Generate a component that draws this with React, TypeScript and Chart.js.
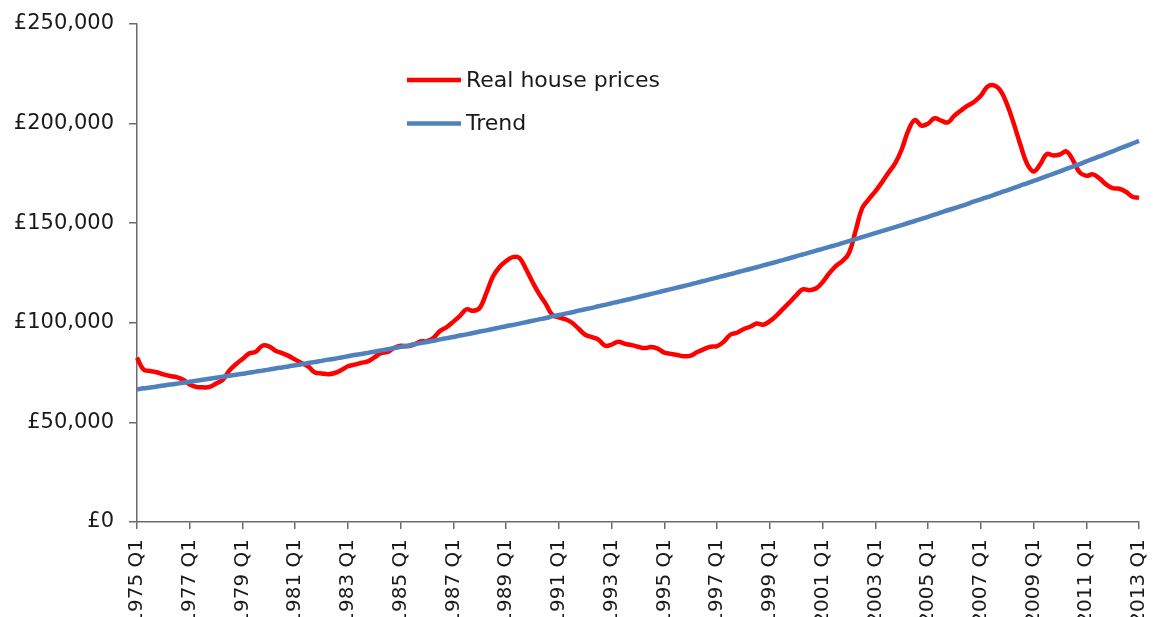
import React, { useEffect, useRef } from "react";
import { Chart, registerables } from "chart.js";

Chart.register(...registerables);

const START_YEAR = 1975;
const END_YEAR = 2013;
const QUARTERS = ["Q1", "Q2", "Q3", "Q4"];

// Real house prices, £ (1975 Q1 .. 2013 Q1, quarterly)
const realHousePrices = [
  82500, 76500, 75800, 75200, 74100, 73300, 72700, 71400, 69000, 67800,
  67600, 67800, 69500, 71300, 76000, 79200, 81800, 84600, 85400, 88500,
  88200, 86000, 84800, 83400, 81500, 79700, 78000, 75000, 74600, 74200,
  74800, 76300, 78200, 79000, 79900, 80600, 82600, 84800, 85400, 87400,
  88500, 88200, 89000, 90600, 90800, 92500, 96000, 97900, 100600, 103500,
  106800, 106000, 107500, 115000, 123200, 128000, 131000, 133000, 132600, 127000,
  120500, 114500, 109500, 104000, 102700, 101800, 100000, 97000, 94000, 92800,
  91600, 88500, 89000, 90500, 89500, 88800, 88000, 87300, 87800, 87000,
  85000, 84400, 83800, 83200, 83500, 85300, 86800, 88000, 88300, 90500,
  94000, 95000, 96800, 98000, 99600, 99000, 100800, 103600, 107000, 110300,
  113800, 116800, 116400, 117200, 120400, 124800, 128500, 131000, 134900, 146000,
  157500, 162000, 166000, 170500, 175400, 180000, 187000, 196500, 201800, 199000,
  200000, 202700, 201500, 200600, 204000, 206600, 209000, 211000, 214000, 218500,
  219200, 216500, 209500, 200000, 189500, 180000, 176000, 179500, 184700, 184000,
  184500, 186000, 181500, 175500, 173800, 174500, 172500, 169500, 167600, 167300,
  165800, 163300, 162700,
];

// Trend, £
const trend = [
  66600, 67100, 67500, 68000, 68500, 69000, 69400, 69900, 70400, 70900,
  71400, 71900, 72400, 72900, 73400, 73900, 74400, 74900, 75500, 76000,
  76500, 77100, 77600, 78100, 78700, 79200, 79800, 80300, 80900, 81500,
  82000, 82600, 83200, 83800, 84300, 84900, 85500, 86100, 86700, 87300,
  87900, 88500, 89200, 89800, 90400, 91000, 91700, 92300, 92900, 93600,
  94200, 94900, 95600, 96200, 96900, 97600, 98300, 98900, 99600, 100300,
  101000, 101700, 102400, 103200, 103900, 104600, 105300, 106100, 106800, 107500,
  108300, 109000, 109800, 110600, 111300, 112100, 112900, 113700, 114500, 115300,
  116100, 116900, 117700, 118500, 119300, 120200, 121000, 121900, 122700, 123600,
  124400, 125300, 126200, 127000, 127900, 128800, 129700, 130600, 131500, 132400,
  133400, 134300, 135200, 136200, 137100, 138100, 139000, 140000, 141000, 142000,
  143000, 144000, 145000, 146000, 147000, 148000, 149000, 150100, 151100, 152200,
  153200, 154300, 155400, 156500, 157500, 158600, 159700, 160900, 162000, 163100,
  164200, 165400, 166500, 167700, 168900, 170000, 171200, 172400, 173600, 174800,
  176000, 177300, 178500, 179700, 181000, 182300, 183500, 184800, 186100, 187400,
  188700, 190000, 191300,
];

const yTicks = [0, 50000, 100000, 150000, 200000, 250000];
const seriesNames = ["Real house prices", "Trend"];
const seriesColors = ["#FF0000", "#4F81BD"];

const categories: string[] = [];
for (let y = START_YEAR; y <= END_YEAR; y++) {
  for (const q of QUARTERS) {
    if (y === END_YEAR && q !== "Q1") continue;
    categories.push(`${y} ${q}`);
  }
}

const FONT = "'DejaVu Sans', sans-serif";
const AXIS_COLOR = "#6b6b6b";
const TEXT_COLOR = "#1a1a1a";

const legendPlugin = {
  id: "insideLegend",
  afterDraw(chart: any) {
    const ctx = chart.ctx;
    const rows = [80, 123.5];
    ctx.save();
    chart.data.datasets.forEach((ds: any, k: number) => {
      const y = rows[k];
      ctx.strokeStyle = ds.borderColor;
      ctx.lineWidth = 4.5;
      ctx.lineCap = "butt";
      ctx.beginPath();
      ctx.moveTo(407, y);
      ctx.lineTo(461, y);
      ctx.stroke();
      ctx.fillStyle = TEXT_COLOR;
      ctx.font = `22px ${FONT}`;
      ctx.textAlign = "left";
      ctx.textBaseline = "middle";
      ctx.fillText(ds.label, 466, y + 1);
    });
    ctx.restore();
  },
};

export default function App() {
  const ref = useRef<HTMLCanvasElement | null>(null);

  useEffect(() => {
    document.body.style.margin = "0";
    document.body.style.overflow = "hidden";
    const canvas = ref.current;
    if (!canvas) return;
    const chart = new Chart(canvas, {
      type: "line",
      data: {
        labels: categories,
        datasets: [
          {
            label: seriesNames[0],
            data: realHousePrices,
            borderColor: seriesColors[0],
            backgroundColor: seriesColors[0],
            borderWidth: 4.5,
            pointRadius: 0,
            tension: 0.4,
            order: 2,
          },
          {
            label: seriesNames[1],
            data: trend,
            borderColor: seriesColors[1],
            backgroundColor: seriesColors[1],
            borderWidth: 4.5,
            pointRadius: 0,
            tension: 0.4,
            order: 1,
          },
        ],
      },
      options: {
        animation: false,
        responsive: false,
        maintainAspectRatio: false,
        layout: { padding: { top: 24, right: 16, left: 0, bottom: 0 } },
        plugins: {
          legend: { display: false },
          tooltip: { enabled: false },
        },
        scales: {
          x: {
            type: "category",
            offset: false,
            grid: {
              display: true,
              drawOnChartArea: false,
              drawTicks: true,
              tickLength: 7,
              color: AXIS_COLOR,
              lineWidth: 1.5,
            },
            border: { display: true, color: AXIS_COLOR, width: 1.5 },
            ticks: {
              autoSkip: false,
              minRotation: 90,
              maxRotation: 90,
              padding: 10,
              color: TEXT_COLOR,
              font: { family: FONT, size: 20 },
              callback: (_v: any, i: number) => (i % 8 === 0 ? categories[i] : null),
            },
            afterFit: (s: any) => {
              s.height = 95;
              s.paddingLeft = 0;
              s.paddingRight = 0;
            },
          },
          y: {
            min: yTicks[0],
            max: yTicks[yTicks.length - 1],
            afterBuildTicks: (s: any) => {
              s.ticks = yTicks.map((v) => ({ value: v }));
            },
            grid: {
              display: true,
              drawOnChartArea: false,
              drawTicks: true,
              tickLength: 8,
              color: AXIS_COLOR,
              lineWidth: 1.5,
            },
            border: { display: true, color: AXIS_COLOR, width: 1.5 },
            ticks: {
              padding: 15,
              color: TEXT_COLOR,
              font: { family: FONT, size: 21 },
              callback: (v: any) => "£" + Number(v).toLocaleString("en-GB"),
            },
            afterFit: (s: any) => {
              s.width = 137;
              s.paddingTop = 0;
              s.paddingBottom = 0;
            },
          },
        },
      },
      plugins: [legendPlugin],
    });
    return () => chart.destroy();
  }, []);

  return (
    <div style={{ width: 1155, height: 617, background: "#fff" }}>
      <canvas ref={ref} width={1155} height={617} style={{ display: "block", width: 1155, height: 617 }} />
    </div>
  );
}
